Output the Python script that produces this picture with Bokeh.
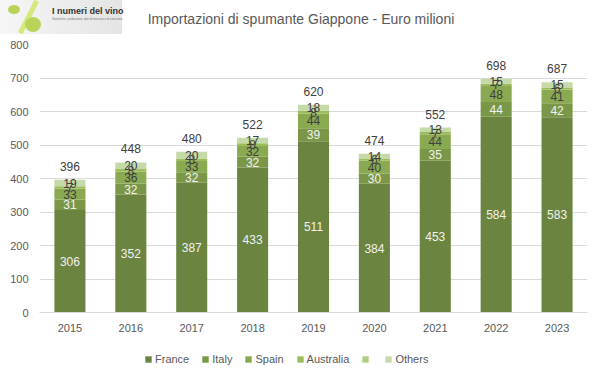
from bokeh.plotting import figure
from bokeh.models import ColumnDataSource, Legend, LegendItem, FactorRange, Div
from bokeh.layouts import column
from bokeh.core.properties import value
from bokeh.embed import file_html
from bokeh.resources import INLINE

years = ["2015", "2016", "2017", "2018", "2019", "2020", "2021", "2022", "2023"]
france = [306, 352, 387, 433, 511, 384, 453, 584, 583]
italy = [31, 32, 32, 32, 39, 30, 35, 44, 42]
spain = [33, 36, 33, 32, 44, 40, 44, 48, 41]
australia = [7, 8, 8, 8, 8, 6, 7, 7, 6]
blank = [0, 0, 0, 0, 0, 0, 0, 0, 0]
others = [19, 20, 20, 17, 18, 14, 13, 15, 15]
totals = [396, 448, 480, 522, 620, 474, 552, 698, 687]

series_names = ["France", "Italy", "Spain", "Australia", " ", "Others"]
series_vals = [france, italy, spain, australia, blank, others]
keys = ["france", "italy", "spain", "australia", "blank", "others"]
colors = ["#6b843f", "#7a9747", "#8aaa51", "#9dbc5c", "#b1cb83", "#c6d9a8"]
label_colors = ["#f2f2f2", "#f2f2f2", "#404040", "#404040", "#404040", "#404040"]

TITLE = "Importazioni di spumante Giappone - Euro milioni"
LOGO = "I numeri del vino"
LOGO_SUB = "Statistiche, produzione, dati di mercato e di consumo"
FONT = "Liberation Sans"
W = 600

# ---------- header (logo + title) ----------
header_html = f"""
<div style="position:relative;width:{W}px;height:34px;font-family:'{FONT}';">
  <div style="position:absolute;left:0;top:0;width:122px;height:34px;
              background:linear-gradient(90deg,#f6f6f6,#e4e4e4);"></div>
  <div style="position:absolute;left:26px;top:-1px;width:5px;height:36px;background:#d6e87a;
              transform:rotate(27deg);"></div>
  <div style="position:absolute;left:8px;top:5px;width:12px;height:9px;border-radius:50%;
              background:#b9d35a;"></div>
  <div style="position:absolute;left:25px;top:17px;width:16px;height:15px;border-radius:50%;
              background:#b9d35a;"></div>
  <span style="position:absolute;left:52px;top:5px;font-size:9px;font-weight:bold;
               color:#333333;white-space:nowrap;">{LOGO}</span>
  <span style="position:absolute;left:52px;top:17px;font-size:3px;color:#777777;
               white-space:nowrap;">{LOGO_SUB}</span>
  <span style="position:absolute;left:0;top:9px;width:602px;text-align:center;font-size:14px;
               color:#595959;white-space:nowrap;">{TITLE}</span>
</div>
"""
hdr = Div(text=header_html, width=W, height=34, margin=0)

# ---------- main chart ----------
data = {"year": years, "total": totals, "total_txt": [str(t) for t in totals]}
for k, v in zip(keys, series_vals):
    data[k] = v
source = ColumnDataSource(data)

p = figure(x_range=FactorRange(*years), y_range=(0, 800), width=W, height=306,
           output_backend="svg", toolbar_location=None,
           min_border_left=39, min_border_right=13, min_border_top=10, min_border_bottom=28)

renderers = p.vbar_stack(keys, x="year", width=0.51, color=colors, source=source, line_width=0)

cum = [0] * len(years)
for k, vals, lc in zip(keys, series_vals, label_colors):
    mids, txt, xs = [], [], []
    for i, v in enumerate(vals):
        if v > 0:
            xs.append(years[i])
            mids.append(cum[i] + v / 2)
            txt.append(str(v))
        cum[i] += v
    if xs:
        s = ColumnDataSource(dict(x=xs, y=mids, t=txt))
        p.text(x="x", y="y", text="t", source=s, text_align="center", text_baseline="middle",
               text_color=lc, text_font=value(FONT), text_font_size="12px")

p.text(x="year", y="total", text="total_txt", source=source, text_align="center",
       text_baseline="bottom", y_offset=-9, text_color="#404040", text_font=value(FONT),
       text_font_size="12px")

p.xgrid.grid_line_color = None
p.ygrid.grid_line_color = "#d9d9d9"
p.yaxis.ticker = list(range(0, 801, 100))
p.yaxis.axis_line_color = None
p.yaxis.major_tick_line_color = None
p.yaxis.minor_tick_line_color = None
p.xaxis.axis_line_color = "#d9d9d9"
p.xaxis.major_tick_line_color = None
p.xaxis.minor_tick_line_color = None
for ax in (p.xaxis[0], p.yaxis[0]):
    ax.major_label_text_font = FONT
    ax.major_label_text_font_size = "11px"
    ax.major_label_text_color = "#595959"
p.outline_line_color = None
p.x_range.range_padding = 0.0
p.x_range.group_padding = 0.0

# ---------- legend strip ----------
lg = figure(width=W, height=36, x_range=(0, 1), y_range=(0, 1), output_backend="svg",
            toolbar_location=None, min_border=0, outline_line_color=None,
            x_axis_location=None, y_axis_location=None)
lg.grid.visible = False
items = []
for n, c in zip(series_names, colors):
    r = lg.quad(left=[0], right=[0], top=[0], bottom=[0], fill_color=c, line_color=None)
    items.append(LegendItem(label=n, renderers=[r]))
legend = Legend(items=items, orientation="horizontal", location=(105, 11),
                label_text_font=FONT, label_text_font_size="11px", label_text_color="#595959",
                glyph_width=8, glyph_height=8, spacing=12, label_standoff=3,
                border_line_color=None, background_fill_alpha=0, padding=2, margin=0,
                label_height=12, label_width=0)
lg.add_layout(legend, "center")

layout = column(hdr, p, lg, spacing=0)
open("out.html", "w").write(file_html(layout, INLINE))
